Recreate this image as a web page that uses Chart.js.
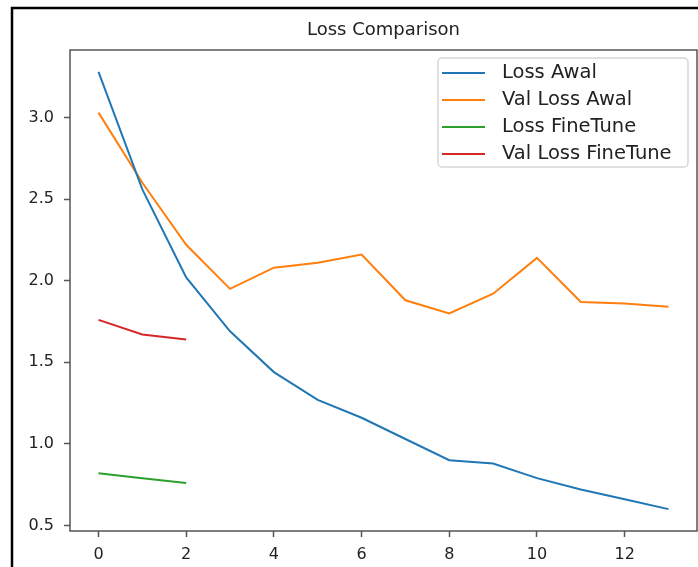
<!DOCTYPE html>
<html>
<head>
<meta charset="utf-8">
<script src="https://cdn.jsdelivr.net/npm/chart.js@4.4.0/dist/chart.umd.min.js"></script>
<style>
  body { margin: 0; background: #fff; }
  #chart-holder { width: 698px; height: 567px; }
</style>
</head>
<body>
<div id="chart-holder">
  <canvas id="chart-area" width="698" height="567"></canvas>
</div>

<script>
// values
var epochsAwal = [0, 1, 2, 3, 4, 5, 6, 7, 8, 9, 10, 11, 12, 13];
var epochsFineTune = [0, 1, 2];
var lossAwal = [3.28, 2.56, 2.02, 1.69, 1.44, 1.27, 1.16, 1.03, 0.90, 0.88, 0.79, 0.72, 0.66, 0.60];
var valLossAwal = [3.03, 2.60, 2.22, 1.95, 2.08, 2.11, 2.16, 1.88, 1.80, 1.92, 2.14, 1.87, 1.86, 1.84];
var lossFineTune = [0.82, 0.79, 0.76];
var valLossFineTune = [1.76, 1.67, 1.64];
var seriesNames = ['Loss Awal', 'Val Loss Awal', 'Loss FineTune', 'Val Loss FineTune'];
var seriesColors = ['#1f77b4', '#ff7f0e', '#2ca02c', '#d62728'];
var xTicks = [0, 2, 4, 6, 8, 10, 12];
var yTicks = [0.5, 1.0, 1.5, 2.0, 2.5, 3.0];

var spineColor = '#555';
var textColor = '#222';

function toPoints(xs, ys) {
    return xs.map(function(x, i) { return { x: x, y: ys[i] }; });
}

// matplotlib style 5% margins
function paddedRange(values) {
    var lo = Math.min.apply(null, values), hi = Math.max.apply(null, values);
    var pad = (hi - lo) * 0.05;
    return { min: lo - pad, max: hi + pad };
}
var xRange = paddedRange(epochsAwal);
var yRange = paddedRange(lossAwal.concat(valLossAwal, lossFineTune, valLossFineTune));

var frameAndLegend = {
    id: 'frameAndLegend',
    beforeDraw: function(chart) {
        var ctx = chart.ctx;
        ctx.save();
        ctx.strokeStyle = '#000';
        ctx.lineWidth = 2.5;
        ctx.beginPath();
        ctx.moveTo(12, 567);
        ctx.lineTo(12, 8);
        ctx.lineTo(698, 8);
        ctx.stroke();
        ctx.restore();
    },
    afterDraw: function(chart) {
        var ctx = chart.ctx, area = chart.chartArea;
        ctx.save();
        // spines
        ctx.strokeStyle = spineColor;
        ctx.lineWidth = 1.5;
        ctx.strokeRect(area.left, area.top, area.right - area.left, area.bottom - area.top);

        // legend box
        var boxW = 250, boxH = 109;
        var left = area.right - 9 - boxW, top = area.top + 8;
        ctx.beginPath();
        ctx.roundRect(left, top, boxW, boxH, 4);
        ctx.fillStyle = 'rgba(255,255,255,0.8)';
        ctx.fill();
        ctx.strokeStyle = '#d6d6d6';
        ctx.lineWidth = 1.5;
        ctx.stroke();

        ctx.font = '19.5px "DejaVu Sans"';
        ctx.textBaseline = 'middle';
        chart.data.datasets.forEach(function(ds, i) {
            var y = top + 15 + i * 27;
            ctx.strokeStyle = ds.borderColor;
            ctx.lineWidth = 2;
            ctx.beginPath();
            ctx.moveTo(left + 4, y);
            ctx.lineTo(left + 47, y);
            ctx.stroke();
            ctx.fillStyle = textColor;
            ctx.fillText(ds.label, left + 64, y);
        });
        ctx.restore();
    }
};

Chart.defaults.font.family = '"DejaVu Sans"';
Chart.defaults.color = textColor;

var config = {
    type: 'line',
    data: {
        datasets: [
            { label: seriesNames[0], data: toPoints(epochsAwal, lossAwal), borderColor: seriesColors[0] },
            { label: seriesNames[1], data: toPoints(epochsAwal, valLossAwal), borderColor: seriesColors[1] },
            { label: seriesNames[2], data: toPoints(epochsFineTune, lossFineTune), borderColor: seriesColors[2] },
            { label: seriesNames[3], data: toPoints(epochsFineTune, valLossFineTune), borderColor: seriesColors[3] }
        ]
    },
    options: {
        responsive: false,
        animation: false,
        layout: { padding: { left: 0, right: 1, top: 0, bottom: 0 } },
        elements: {
            line: { borderWidth: 2, tension: 0, fill: false },
            point: { radius: 0 }
        },
        plugins: {
            legend: { display: false },
            tooltip: { enabled: false },
            title: {
                display: true,
                text: 'Loss Comparison',
                fullSize: false,
                color: textColor,
                font: { size: 18, weight: 'normal' },
                padding: { top: 20, bottom: 8.4 }
            }
        },
        scales: {
            x: {
                type: 'linear',
                min: xRange.min,
                max: xRange.max,
                afterBuildTicks: function(scale) {
                    scale.ticks = xTicks.map(function(v) { return { value: v }; });
                },
                afterFit: function(scale) { scale.height = 36; },
                grid: { drawOnChartArea: false, color: spineColor, tickLength: 6, tickWidth: 1.5 },
                border: { display: false },
                ticks: { font: { size: 16 }, padding: 8, maxRotation: 0 }
            },
            y: {
                min: yRange.min,
                max: yRange.max,
                afterBuildTicks: function(scale) {
                    scale.ticks = yTicks.map(function(v) { return { value: v }; });
                },
                afterFit: function(scale) { scale.width = 70; },
                grid: { drawOnChartArea: false, color: spineColor, tickLength: 6, tickWidth: 1.5 },
                border: { display: false },
                ticks: {
                    font: { size: 16 },
                    padding: 10,
                    callback: function(v) { return v.toFixed(1); }
                }
            }
        }
    },
    plugins: [frameAndLegend]
};

window.onload = function() {
    var ctx = document.getElementById('chart-area').getContext('2d');
    window.lossChart = new Chart(ctx, config);
};
</script>
</body>
</html>
